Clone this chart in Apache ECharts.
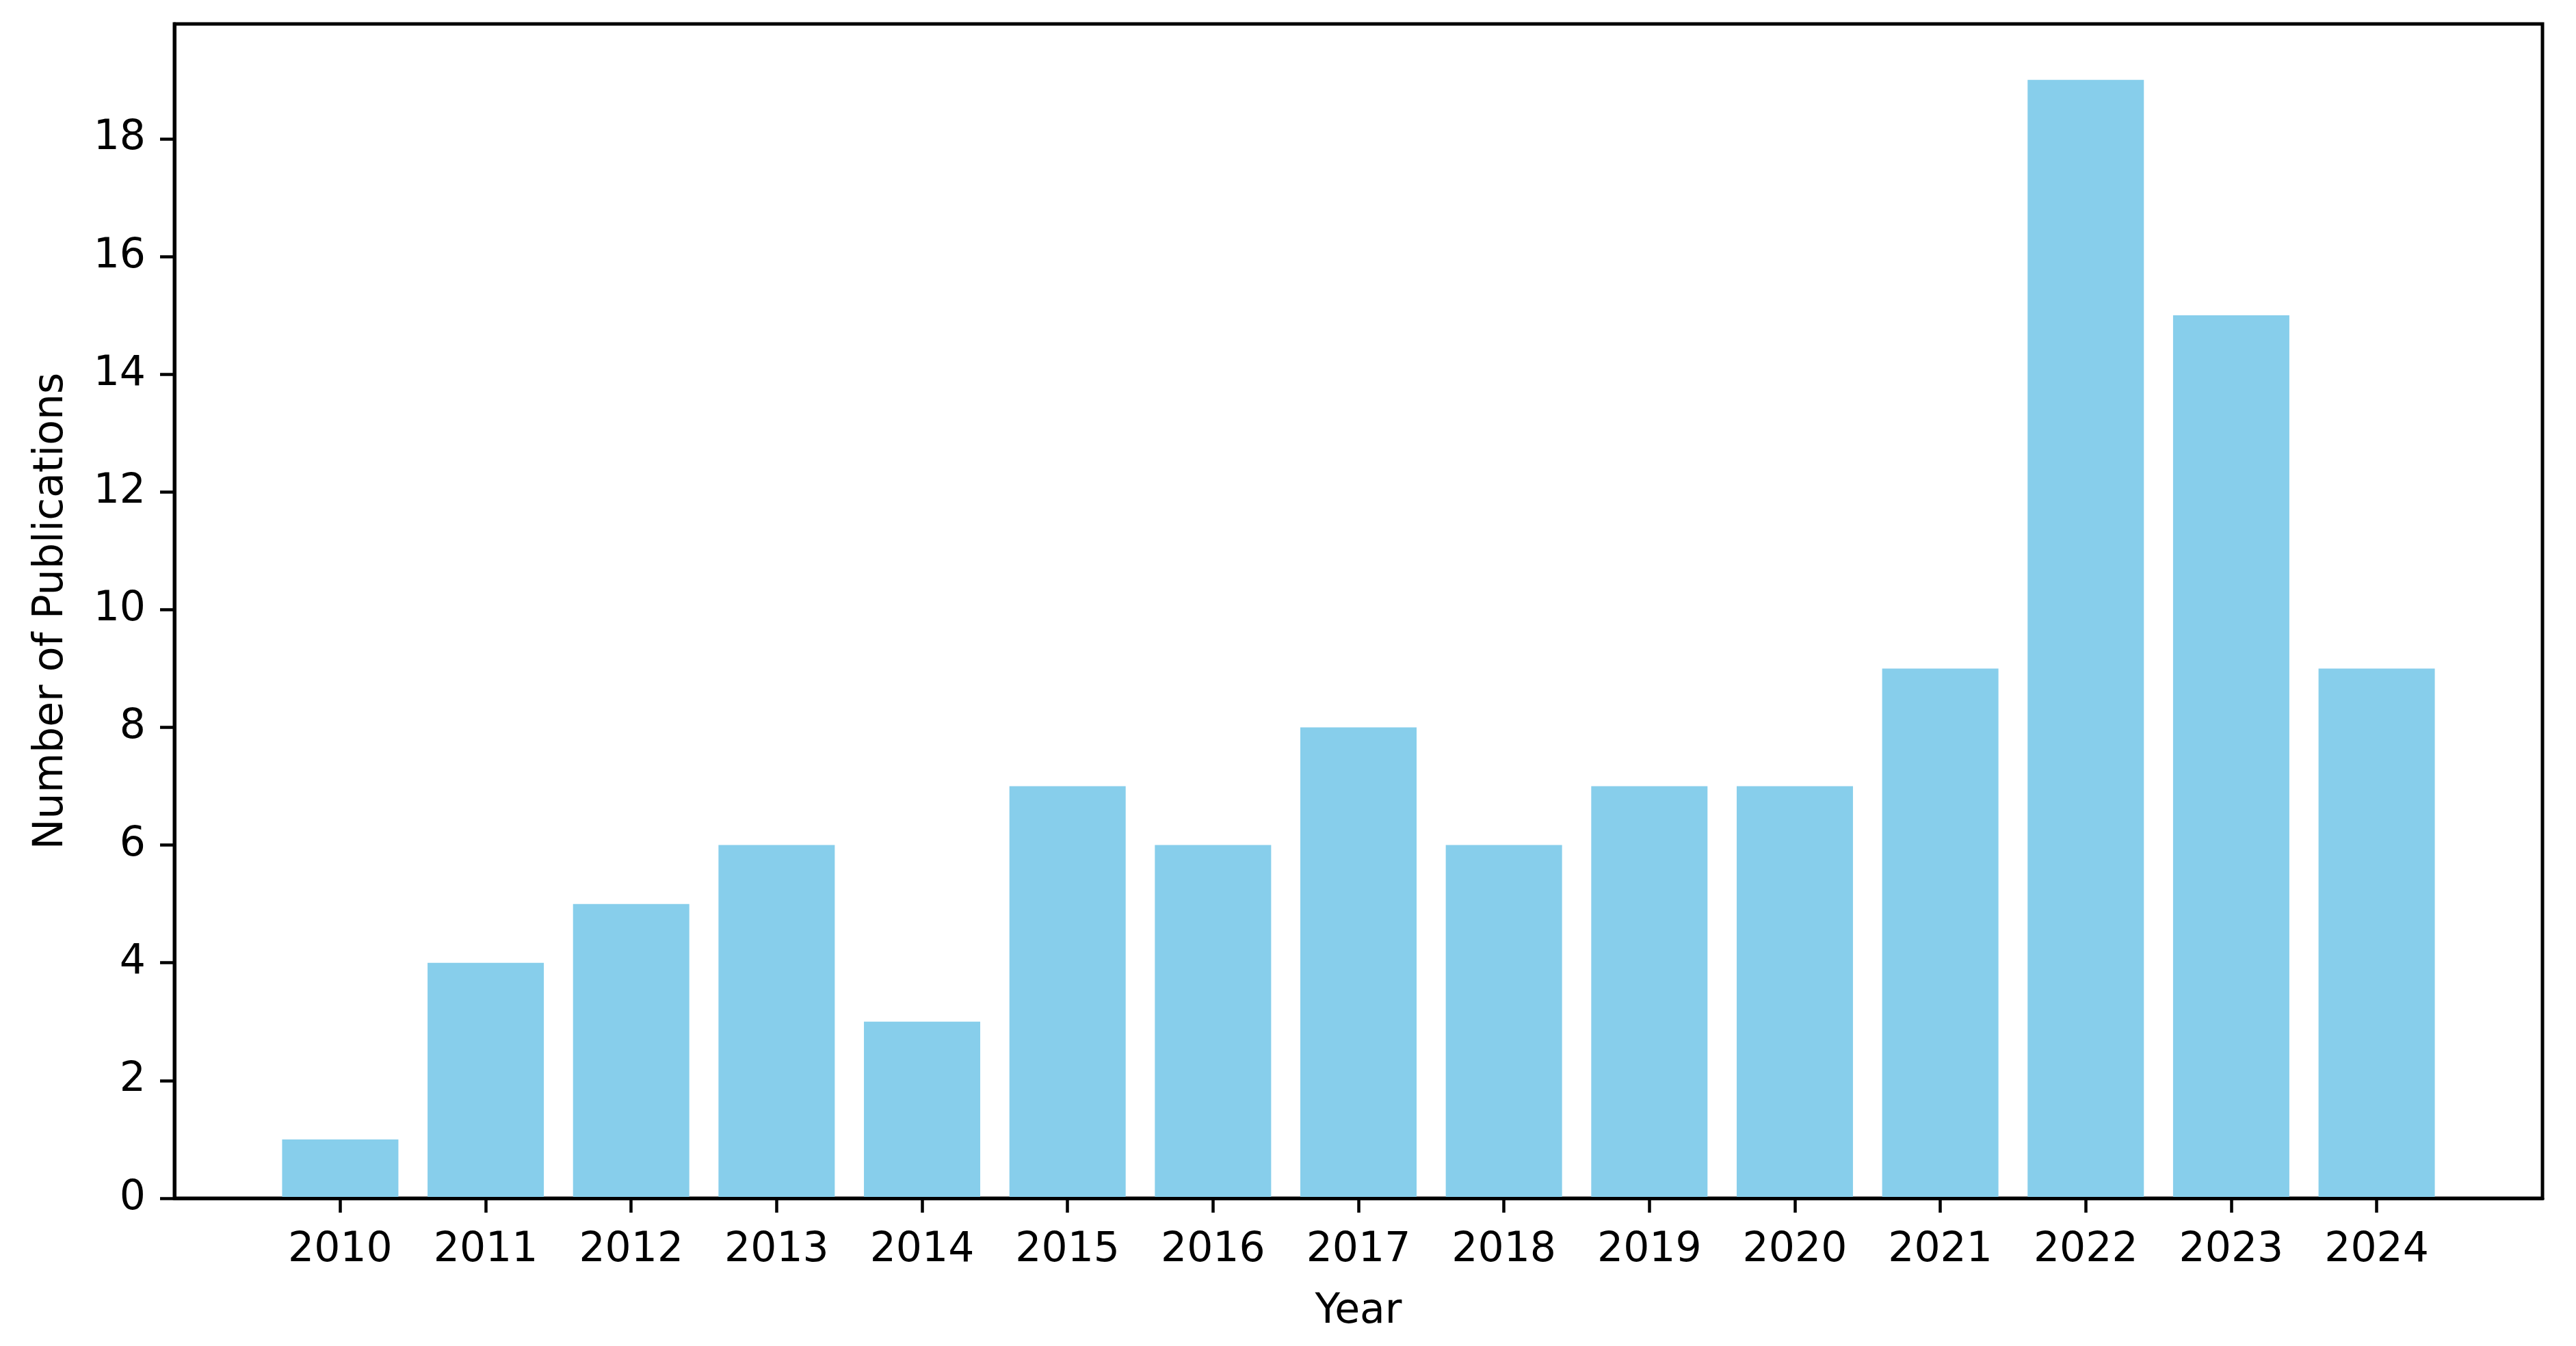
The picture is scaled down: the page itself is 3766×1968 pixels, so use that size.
<!DOCTYPE html>
<html>
<head>
<meta charset="utf-8">
<script src="https://cdn.jsdelivr.net/npm/echarts@6/dist/echarts.min.js"></script>
<style>
html,body{margin:0;padding:0;background:#fff;}
#chart{width:3766px;height:1968px;}
</style>
</head>
<body>
<div id="chart"></div>
<script>
const years = ['2010','2011','2012','2013','2014','2015','2016','2017','2018','2019','2020','2021','2022','2023','2024'];
const publications = [1,4,5,6,3,7,6,8,6,7,7,9,19,15,9];
const yTicks = [0,2,4,6,8,10,12,14,16,18];

const xIdx = years.map((y,i)=>i);
const barData = publications.map((v,i)=>[i,v]);

const chart = echarts.init(document.getElementById('chart'), null, {renderer:'canvas'});
const FONT = 'DejaVu Sans';
chart.setOption({
  animation:false,
  backgroundColor:'#fff',
  grid:{left:255,right:49,top:35,bottom:216,show:true,borderColor:'#000',borderWidth:5,containLabel:false},
  xAxis:{
    type:'value', min:-1.14, max:15.14, z:10,
    name:'Year', nameLocation:'middle', nameGap:136,
    nameTextStyle:{fontFamily:FONT,fontSize:60,color:'#000'},
    axisLine:{show:true,onZero:false,lineStyle:{color:'#000',width:5}},
    axisTick:{show:true,customValues:xIdx,length:21,lineStyle:{color:'#000',width:4.5}},
    axisLabel:{show:true,customValues:xIdx,margin:46,fontFamily:FONT,fontSize:60,color:'#000',
      formatter:(v)=>years[Math.round(v)]},
    splitLine:{show:false}
  },
  yAxis:{
    type:'value', min:0, max:19.95, z:10,
    name:'Number of Publications', nameLocation:'middle', nameGap:150,
    nameTextStyle:{fontFamily:FONT,fontSize:60,color:'#000'},
    axisLine:{show:true,onZero:false,lineStyle:{color:'#000',width:5}},
    axisTick:{show:true,customValues:yTicks,length:21,lineStyle:{color:'#000',width:4.5}},
    axisLabel:{show:true,customValues:yTicks,margin:42,fontFamily:FONT,fontSize:60,color:'#000'},
    splitLine:{show:false}
  },
  series:[{
    type:'bar',
    data:barData,
    barWidth:170,
    itemStyle:{color:'#87CEEB'}
  }]
});
</script>
</body>
</html>
